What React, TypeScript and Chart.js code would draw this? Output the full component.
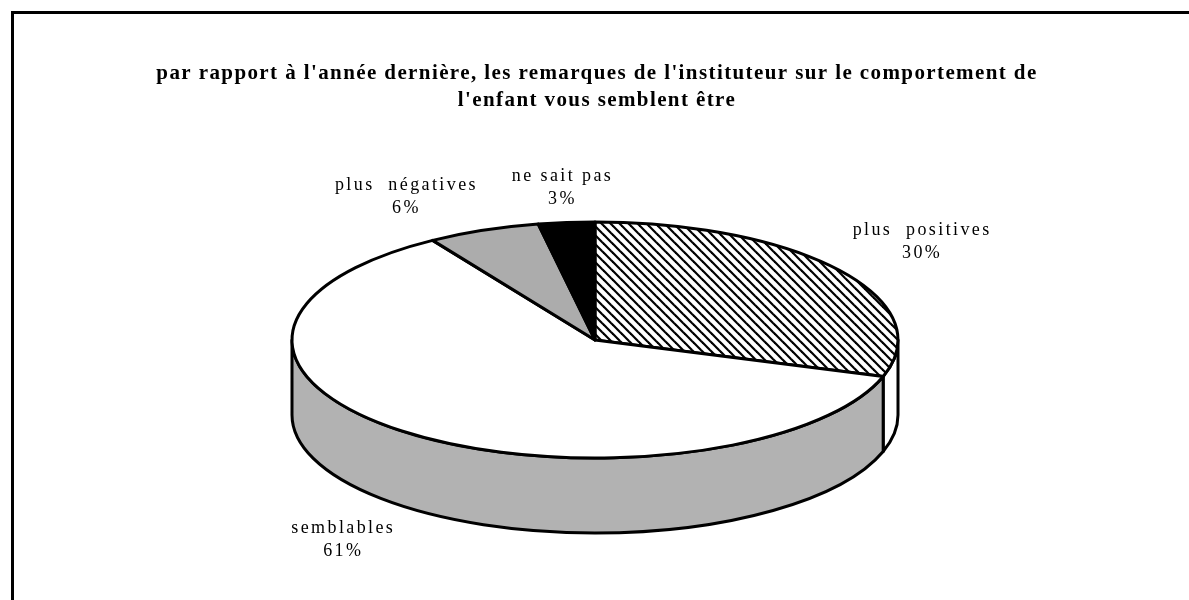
import React, { useEffect, useRef } from 'react';
import { Chart, registerables } from 'chart.js';

Chart.register(...registerables);

// ---- data ----
const TITLE_LINES = [
  "par rapport à l'année dernière, les remarques de l'instituteur sur le comportement de",
  "l'enfant vous semblent être",
];
const CATEGORIES = ['plus  positives', 'semblables', 'plus  négatives', 'ne sait pas'];
const VALUES = [30, 61, 6, 3];

// ---- styles ----
const TOP_FILLS = ['hatch', '#ffffff', '#acacac', '#000000'];
const WALL_FILLS = ['#ffffff', '#b2b2b2', '#9a9a9a', '#000000'];
// label text offsets from the slice's mid-angle anchor on the ellipse rim
const LABEL_OFFSETS = [
  [82, -29],
  [-66, 32],
  [-77, -34],
  [-4, -35],
];
const RX_K = 1.515;
const RY_K = 0.59;
const DEPTH_K = 0.375;

function makeHatch(ctx: CanvasRenderingContext2D) {
  const s = 9;
  const c = document.createElement('canvas');
  c.width = s;
  c.height = s;
  const g = c.getContext('2d')!;
  g.fillStyle = '#ffffff';
  g.fillRect(0, 0, s, s);
  g.strokeStyle = '#000000';
  g.lineWidth = 2.2;
  for (const k of [-s, 0, s]) {
    g.beginPath();
    g.moveTo(k - 1, -1);
    g.lineTo(k + s + 1, s + 1);
    g.stroke();
  }
  return ctx.createPattern(c, 'repeat');
}

const pie3d = {
  id: 'pie3d',
  beforeDraw(chart: any) {
    const ctx: CanvasRenderingContext2D = chart.ctx;
    ctx.save();
    ctx.fillStyle = '#ffffff';
    ctx.fillRect(0, 0, chart.width, chart.height);
    // frame
    ctx.fillStyle = '#000000';
    ctx.fillRect(11, 11, chart.width - 11, 3);
    ctx.fillRect(11, 11, 3, chart.height - 11);
    // title
    ctx.font = 'bold 21px "Liberation Serif", "Times New Roman", serif';
    (ctx as any).letterSpacing = '1.4px';
    ctx.textAlign = 'center';
    ctx.textBaseline = 'middle';
    ctx.fillText(TITLE_LINES[0], 597, 74);
    ctx.fillText(TITLE_LINES[1], 597, 101);
    ctx.restore();
  },
  beforeDatasetsDraw(chart: any) {
    const ctx: CanvasRenderingContext2D = chart.ctx;
    const arcs = chart.getDatasetMeta(0).data as any[];
    if (!arcs.length) return false;
    const cx = arcs[0].x;
    const cy = arcs[0].y;
    const R = arcs[0].outerRadius;
    const rx = R * RX_K;
    const ry = R * RY_K;
    const depth = R * DEPTH_K;
    const hatch = makeHatch(ctx);
    const fillOf = (f: string) => (f === 'hatch' ? hatch : f);

    ctx.save();
    ctx.lineJoin = 'round';
    ctx.strokeStyle = '#000000';
    ctx.lineWidth = 3;

    // front side walls
    arcs.forEach((arc, i) => {
      const a = Math.max(arc.startAngle, 0);
      const b = Math.min(arc.endAngle, Math.PI);
      if (b <= a) return;
      ctx.beginPath();
      ctx.ellipse(cx, cy, rx, ry, 0, a, b);
      ctx.lineTo(cx + rx * Math.cos(b), cy + ry * Math.sin(b) + depth);
      ctx.ellipse(cx, cy + depth, rx, ry, 0, b, a, true);
      ctx.closePath();
      ctx.fillStyle = WALL_FILLS[i];
      ctx.fill();
      ctx.stroke();
    });

    // top faces
    arcs.forEach((arc, i) => {
      ctx.beginPath();
      ctx.moveTo(cx, cy);
      ctx.ellipse(cx, cy, rx, ry, 0, arc.startAngle, arc.endAngle);
      ctx.closePath();
      ctx.fillStyle = fillOf(TOP_FILLS[i]) as any;
      ctx.fill();
      ctx.stroke();
    });

    // labels
    ctx.fillStyle = '#000000';
    ctx.font = '18px "Liberation Serif", "Times New Roman", serif';
    (ctx as any).letterSpacing = '2.4px';
    ctx.textAlign = 'center';
    ctx.textBaseline = 'middle';
    arcs.forEach((arc, i) => {
      const m = (arc.startAngle + arc.endAngle) / 2;
      const s = Math.sin(m);
      const ax = cx + rx * Math.cos(m);
      const ay = cy + ry * s + (s > 0 ? depth : 0);
      const lx = ax + LABEL_OFFSETS[i][0];
      const ly = ay + LABEL_OFFSETS[i][1];
      ctx.fillText(CATEGORIES[i], lx, ly - 11.5);
      ctx.fillText(`${VALUES[i]}%`, lx, ly + 11.5);
    });
    ctx.restore();
    return false;
  },
};

export default function App() {
  const ref = useRef<HTMLCanvasElement | null>(null);
  useEffect(() => {
    if (!ref.current) return;
    const chart = new Chart(ref.current, {
      type: 'pie',
      data: {
        labels: CATEGORIES,
        datasets: [{ data: VALUES, borderWidth: 0, backgroundColor: TOP_FILLS.map((c) => (c === 'hatch' ? '#fff' : c)) }],
      },
      options: {
        responsive: false,
        animation: false,
        layout: { padding: { top: 140, bottom: 60, left: 300, right: 299 } },
        plugins: { legend: { display: false }, tooltip: { enabled: false }, title: { display: false } },
      },
      plugins: [pie3d],
    });
    return () => chart.destroy();
  }, []);
  return (
    <div style={{ position: 'absolute', left: 0, top: 0, width: 1189, height: 600, background: '#fff' }}>
      <canvas ref={ref} width={1189} height={600} style={{ display: 'block' }} />
    </div>
  );
}
